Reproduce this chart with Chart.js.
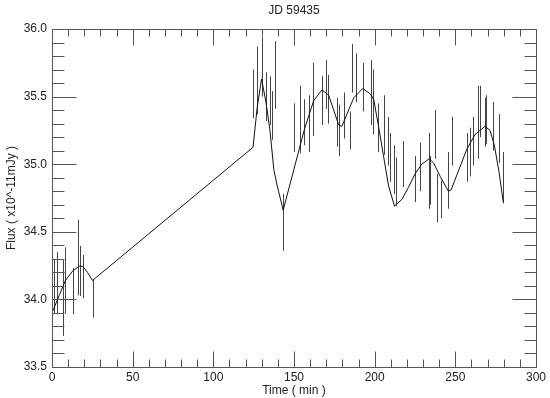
<!DOCTYPE html>
<html>
<head>
<meta charset="utf-8">
<script src="https://cdn.jsdelivr.net/npm/chart.js@4"></script>
<style>
  html, body { margin: 0; padding: 0; background: #fff; }
  #wrap { width: 550px; height: 398px; }
</style>
</head>
<body>
<div id="wrap"><canvas id="lightCurve"></canvas></div>
<script>
// Measured points with error bars (time in min, flux in x10^-11 mJy)
const times = [1.4, 3.3, 6.7, 8.2, 12.8, 15.9, 17.4, 19.0, 25.2,
    124.5, 127.2, 129.9, 132.6, 135.0, 136.6, 138.1, 143.3, 149.9, 153.6,
    156.5, 159.2, 161.8, 167.4, 169.9, 171.1, 176.6, 177.9, 180.8, 184.5,
    185.9, 188.4, 192.6, 197.6, 198.9,
    201.8, 205.6, 208.2, 209.6, 212.1, 213.2, 217.5, 225.1, 228.2, 233.4,
    234.4, 237.5, 238.9, 241.2, 245.3, 247.8, 257.3, 259.3, 261.2, 264.3,
    265.3, 268.4, 269.0, 273.4, 277.1, 279.7];
const flux = [34.10, 34.12, 34.01, 34.14, 34.06, 34.31, 34.21, 34.17, 34.005,
    35.52, 35.62, 35.72, 35.50, 35.47, 35.36, 35.66, 34.57, 35.27, 35.33,
    35.31, 35.30, 35.48, 35.47, 35.59, 35.48, 35.31, 35.25, 35.36, 35.25,
    35.71, 35.64, 35.57, 35.53, 35.46,
    35.27, 35.29, 35.17, 35.05, 34.96, 34.87, 35.00, 34.89, 34.98, 34.95,
    34.88, 35.22, 34.75, 34.74, 34.88, 35.17, 35.05, 35.09, 35.17, 35.31,
    35.39, 35.31, 35.33, 35.28, 35.19, 34.90];
const fluxErr = [0.20, 0.23, 0.28, 0.245, 0.17, 0.28, 0.185, 0.16, 0.14,
    0.18, 0.25, 0.22, 0.18, 0.18, 0.18, 0.25, 0.21, 0.18, 0.25,
    0.17, 0.21, 0.27, 0.18, 0.18, 0.18, 0.18, 0.19, 0.17, 0.14,
    0.18, 0.18, 0.18, 0.24, 0.24,
    0.18, 0.22, 0.18, 0.18, 0.18, 0.18, 0.17, 0.17, 0.18, 0.28,
    0.18, 0.18, 0.18, 0.14, 0.21, 0.18, 0.18, 0.18, 0.18, 0.27,
    0.19, 0.18, 0.18, 0.18, 0.18, 0.19];

// Smoothed curve
const curveT = [0, 4.5, 8.3, 12.8, 16.9, 19.0, 22.0, 25.1, 124.6, 127.2,
    129.9, 132.6, 135.0, 137.5, 139.6, 143.3, 149.9, 156.5, 162.2, 167.4,
    171.5, 174.6, 177.7, 179.7, 182.8, 187.0, 192.6, 197.3, 199.4, 202.4,
    205.5, 208.6, 212.3, 216.9, 221.0, 225.1, 229.2, 233.8, 236.5, 240.6,
    245.7, 247.4, 251.9, 257.1, 262.2, 268.4, 271.5, 274.2, 277.1, 279.7];
const curveF = [33.90, 34.03, 34.14, 34.21, 34.245, 34.245, 34.20, 34.14, 35.125, 35.42,
    35.63, 35.46, 35.26, 34.96, 34.84, 34.66, 34.96, 35.26, 35.47, 35.55,
    35.51, 35.40, 35.29, 35.28, 35.37, 35.49, 35.56, 35.52, 35.48, 35.28,
    35.06, 34.84, 34.69, 34.74, 34.83, 34.93, 35.00, 35.04, 35.01, 34.91,
    34.80, 34.81, 34.95, 35.11, 35.22, 35.28, 35.25, 35.14, 34.94, 34.72];

const FONT = '"Liberation Sans", Arial, sans-serif';
const AXIS_COLOR = '#555';

// vertical error bars, drawn under the curve
const errorBars = {
    id: 'errorBars',
    beforeDatasetsDraw(chart) {
        const { ctx, scales: { x, y } } = chart;
        ctx.save();
        ctx.strokeStyle = '#444';
        ctx.lineWidth = 1;
        ctx.beginPath();
        for (let i = 0; i < times.length; i++) {
            const px = Math.round(x.getPixelForValue(times[i])) + 0.5;
            ctx.moveTo(px, y.getPixelForValue(flux[i] + fluxErr[i]));
            ctx.lineTo(px, y.getPixelForValue(flux[i] - fluxErr[i]));
        }
        ctx.stroke();
        ctx.restore();
    }
};

// IDL-style box with inward ticks on all four sides
const boxAxes = {
    id: 'boxAxes',
    afterDraw(chart) {
        const { ctx, chartArea: a, scales: { x, y } } = chart;
        const L = a.left + 0.5, R = a.right + 0.5, T = a.top + 0.5, B = a.bottom + 0.5;
        ctx.save();
        ctx.strokeStyle = AXIS_COLOR;
        ctx.lineWidth = 1;
        ctx.beginPath();
        ctx.rect(L, T, R - L, B - T);
        for (let v = x.min; v <= x.max + 1e-6; v += 10) {
            const major = Math.abs(v % 50) < 1e-6;
            const px = Math.round(x.getPixelForValue(v)) + 0.5;
            const len = major ? 16 : 8;
            ctx.moveTo(px, B); ctx.lineTo(px, B - len);
            ctx.moveTo(px, T); ctx.lineTo(px, T + (major ? 16 : 7));
        }
        for (let k = 0; k <= 25; k++) {
            const v = y.min + k * 0.1;
            const major = k % 5 === 0;
            const py = Math.round(y.getPixelForValue(v)) + 0.5;
            const len = major ? 24 : 12;
            ctx.moveTo(L, py); ctx.lineTo(L + len, py);
            ctx.moveTo(R, py); ctx.lineTo(R - len, py);
        }
        ctx.stroke();
        ctx.restore();
    }
};

const ctx = document.getElementById('lightCurve').getContext('2d');
new Chart(ctx, {
    type: 'scatter',
    data: {
        datasets: [{
            label: 'fit',
            data: curveT.map((t, i) => ({ x: t, y: curveF[i] })),
            showLine: true,
            borderColor: '#111',
            borderWidth: 1,
            pointRadius: 0,
            tension: 0
        }, {
            label: 'flux',
            data: times.map((t, i) => ({ x: t, y: flux[i] })),
            pointRadius: 0,
            borderColor: '#444'
        }]
    },
    options: {
        responsive: true,
        maintainAspectRatio: false,
        animation: false,
        layout: { padding: { right: 14, left: 0, top: 0, bottom: 0 } },
        plugins: {
            legend: { display: false },
            tooltip: { enabled: false },
            title: {
                display: true,
                text: 'JD 59435',
                fullSize: false,
                color: '#222',
                font: { family: FONT, size: 12, weight: 'normal' },
                padding: { top: 3, bottom: 11.6 }
            }
        },
        scales: {
            x: {
                type: 'linear',
                min: 0,
                max: 300,
                afterFit: s => { s.height = 31; },
                grid: { display: false, drawTicks: false },
                border: { display: false },
                ticks: {
                    stepSize: 50,
                    padding: 3,
                    maxRotation: 0,
                    color: '#222',
                    font: { family: FONT, size: 12 }
                },
                title: {
                    display: true,
                    text: 'Time ( min )',
                    color: '#222',
                    padding: { top: 0, bottom: 0 },
                    font: { family: FONT, size: 12 }
                }
            },
            y: {
                type: 'linear',
                min: 33.5,
                max: 36.0,
                afterFit: s => { s.width = 52; },
                grid: { display: false, drawTicks: false },
                border: { display: false },
                ticks: {
                    stepSize: 0.5,
                    padding: 5,
                    color: '#222',
                    font: { family: FONT, size: 12 },
                    callback: v => v.toFixed(1)
                },
                title: {
                    display: true,
                    text: 'Flux ( x10^-11mJy )',
                    color: '#222',
                    padding: { top: 4, bottom: 4 },
                    font: { family: FONT, size: 12 }
                }
            }
        }
    },
    plugins: [errorBars, boxAxes]
});
</script>
</body>
</html>
